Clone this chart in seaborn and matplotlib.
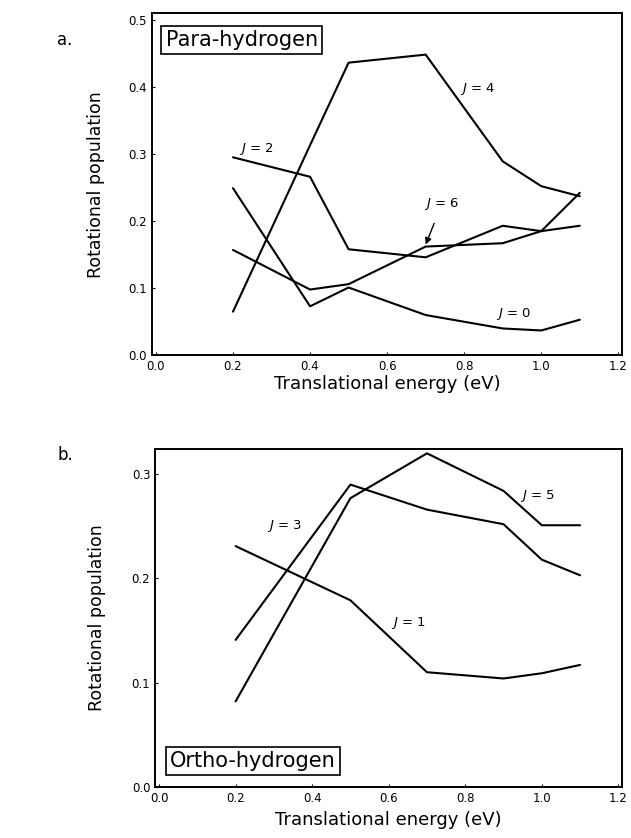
import numpy as np
import pandas as pd
import matplotlib
matplotlib.use("Agg")
import matplotlib.pyplot as plt
import seaborn as sns

# para-hydrogen (panel a)
para_energy = [0.2, 0.4, 0.5, 0.7, 0.9, 1.0, 1.1]
para_j0 = [0.249, 0.073, 0.101, 0.060, 0.040, 0.037, 0.053]
para_j2 = [0.295, 0.266, 0.158, 0.146, 0.193, 0.185, 0.193]
para_j4 = [0.065, 0.313, 0.436, 0.448, 0.289, 0.252, 0.237]
para_j6 = [0.157, 0.098, 0.106, 0.162, 0.167, 0.185, 0.242]

# ortho-hydrogen (panel b)
ortho_energy = [0.2, 0.5, 0.7, 0.9, 1.0, 1.1]
ortho_j1 = [0.231, 0.179, 0.110, 0.104, 0.109, 0.117]
ortho_j3 = [0.141, 0.290, 0.266, 0.252, 0.218, 0.203]
ortho_j5 = [0.082, 0.277, 0.320, 0.284, 0.251, 0.251]

para = pd.DataFrame({"energy": para_energy * 4,
                     "pop": para_j0 + para_j2 + para_j4 + para_j6,
                     "J": sum([[j] * len(para_energy) for j in ["0", "2", "4", "6"]], [])})
ortho = pd.DataFrame({"energy": ortho_energy * 3,
                      "pop": ortho_j1 + ortho_j3 + ortho_j5,
                      "J": sum([[j] * len(ortho_energy) for j in ["1", "3", "5"]], [])})

sns.set_style("ticks")
plt.rcParams['font.family'] = ['DejaVu Sans']
plt.rcParams['text.color'] = 'k'
plt.rcParams['axes.labelcolor'] = 'k'
plt.rcParams['xtick.color'] = 'k'
plt.rcParams['ytick.color'] = 'k'

fig = plt.figure(figsize=(6.31, 8.38), dpi=100)
ax1 = fig.add_axes([0.241, 0.576, 0.745, 0.4085])
ax2 = fig.add_axes([0.246, 0.061, 0.740, 0.403])

black = {"0": "k", "1": "k", "2": "k", "3": "k", "4": "k", "5": "k", "6": "k"}
sns.lineplot(data=para, x="energy", y="pop", hue="J", palette=black, lw=1.5,
             legend=False, ax=ax1)
sns.lineplot(data=ortho, x="energy", y="pop", hue="J", palette=black, lw=1.5,
             legend=False, ax=ax2)

for ax in (ax1, ax2):
    for s in ax.spines.values():
        s.set_linewidth(1.4)
        s.set_color("k")
    ax.set_xticks([0.0, 0.2, 0.4, 0.6, 0.8, 1.0, 1.2])
    ax.set_xticklabels(["0.0", "0.2", "0.4", "0.6", "0.8", "1.0", "1.2"])
    ax.tick_params(labelsize=8.5, length=2, direction="in")
    ax.set_ylabel("Rotational population", fontsize=12.5)
    ax.set_xlabel("Translational energy (eV)", fontsize=13)

ax1.set_xlim(-0.01, 1.21)
ax1.set_ylim(0, 0.51)
ax1.set_yticks([0.0, 0.1, 0.2, 0.3, 0.4, 0.5])
ax1.yaxis.set_label_coords(-0.1, 0.5)
ax1.xaxis.set_label_coords(0.5, -0.058)

ax2.set_xlim(-0.01, 1.21)
ax2.set_ylim(0, 0.324)
ax2.set_yticks([0.0, 0.1, 0.2, 0.3])
ax2.yaxis.set_label_coords(-0.105, 0.5)
ax2.xaxis.set_label_coords(0.5, -0.072)

jkw = dict(fontsize=9.5, ha="center", va="center")
ax1.text(0.835, 0.397, "$\\it{J}$ = 4", **jkw)
ax1.text(0.26, 0.308, "$\\it{J}$ = 2", **jkw)
ax1.text(0.929, 0.062, "$\\it{J}$ = 0", **jkw)
ax1.annotate("$\\it{J}$ = 6", xy=(0.7, 0.165), xytext=(0.742, 0.225),
             arrowprops=dict(arrowstyle="-|>", color="k", lw=1, shrinkA=6, shrinkB=0),
             **jkw)
ax2.text(0.99, 0.279, "$\\it{J}$ = 5", **jkw)
ax2.text(0.329, 0.250, "$\\it{J}$ = 3", **jkw)
ax2.text(0.651, 0.157, "$\\it{J}$ = 1", **jkw)

box = dict(boxstyle="square,pad=0.2", fc="white", ec="k", lw=1.2)
ax1.text(0.025, 0.47, "Para-hydrogen", fontsize=15, ha="left", va="center", bbox=box)
ax2.text(0.028, 0.025, "Ortho-hydrogen", fontsize=15, ha="left", va="center", bbox=box)

fig.text(0.103, 0.952, "a.", fontsize=12, ha="center", va="center")
fig.text(0.103, 0.457, "b.", fontsize=12, ha="center", va="center")

fig.savefig("out.png", dpi=100)
